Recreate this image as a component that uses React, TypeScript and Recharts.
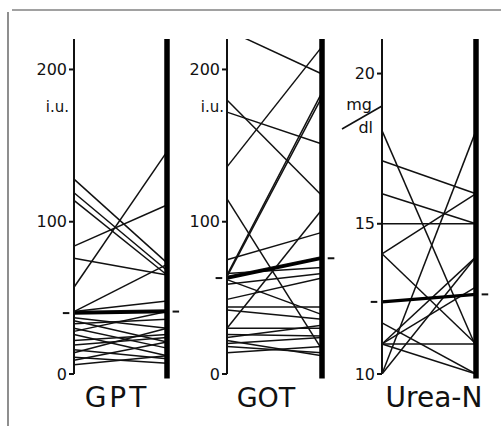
import React from 'react';
import { LineChart, Line, XAxis, YAxis, ReferenceLine } from 'recharts';

// GPT (i.u.) before -> after
const gptBefore = [128, 119, 114, 84, 76, 57, 41, 41, 41, 37, 35, 33, 30, 28, 26, 22, 19, 16, 14, 11, 9, 6];
const gptAfter = [73, 68, 65, 111, 65, 146, 72, 48, 42, 30, 21, 36, 17, 41, 12, 26, 24, 10, 30, 7, 21, 12];
const gptMean = [40, 41];

// GOT (i.u.) before -> after
const gotBefore = [226, 136, 180, 172, 115, 75, 65, 64, 64, 66, 30, 62, 59, 49, 44, 42, 30, 26, 24, 20, 18, 14, 22];
const gotAfter = [197, 215, 117, 151, 16, 93, 185, 182, 77, 70, 108, 39, 66, 63, 44, 36, 30, 25, 32, 24, 14, 18, 12];
const gotMean = [63, 76];

// Urea-N (mg/dl) before -> after
const ureaBefore = [18.1, 17.1, 16.0, 15.0, 14.0, 14.0, 11.7, 11.0, 11.0, 11.0, 10.0, 10.0, 11.0];
const ureaAfter = [10.9, 16.0, 15.0, 15.0, 16.0, 11.0, 10.0, 11.0, 13.9, 12.9, 18.1, 13.9, 10.0];
const ureaMean = [12.4, 12.65];

const gptTicks = [0, 100, 200];
const gotTicks = [0, 100, 200];
const ureaTicks = [10, 15, 20];

const FONT = 'DejaVu Sans';

function buildRows(before: number[], after: number[], mean: number[]) {
  const r0: Record<string, number> = { x: 0, mean: mean[0] };
  const r1: Record<string, number> = { x: 1, mean: mean[1] };
  before.forEach((v, i) => {
    r0['s' + i] = v;
    r1['s' + i] = after[i];
  });
  return [r0, r1];
}

type PanelProps = {
  left: number;
  marginLeft: number;
  marginRight: number;
  before: number[];
  after: number[];
  mean: number[];
  domain: [number, number];
  ticks: number[];
  barBottom: number;
};

function Panel({ left, marginLeft, marginRight, before, after, mean, domain, ticks, barBottom }: PanelProps) {
  const rows = buildRows(before, after, mean);
  return (
    <div style={{ position: 'absolute', left, top: 0 }}>
      <LineChart
        width={200}
        height={400}
        data={rows}
        margin={{ top: 39, right: marginRight, bottom: 26, left: marginLeft }}
      >
        <XAxis dataKey="x" type="number" domain={[0, 1]} hide />
        <YAxis
          width={40}
          domain={domain}
          ticks={ticks}
          allowDataOverflow
          interval={0}
          tickSize={5}
          tickMargin={2}
          axisLine={{ stroke: '#111', strokeWidth: 2 }}
          tickLine={{ stroke: '#111', strokeWidth: 2 }}
          tick={{ fill: '#111', fontSize: 16, fontFamily: FONT }}
        />
        {before.map((_, i) => (
          <Line
            key={i}
            dataKey={'s' + i}
            type="linear"
            stroke="#111"
            strokeWidth={1.5}
            dot={false}
            isAnimationActive={false}
          />
        ))}
        <Line dataKey="mean" type="linear" stroke="#000" strokeWidth={3.2} dot={false} isAnimationActive={false} />
        <ReferenceLine
          segment={[{ x: 1, y: barBottom }, { x: 1, y: domain[1] }]}
          stroke="#000"
          strokeWidth={5.5}
          ifOverflow="visible"
        />
        <ReferenceLine
          segment={[{ x: -0.12, y: mean[0] }, { x: -0.05, y: mean[0] }]}
          stroke="#111"
          strokeWidth={2}
          ifOverflow="visible"
        />
        <ReferenceLine
          segment={[{ x: 1.06, y: mean[1] }, { x: 1.13, y: mean[1] }]}
          stroke="#111"
          strokeWidth={2}
          ifOverflow="visible"
        />
      </LineChart>
    </div>
  );
}

export default function App() {
  return (
    <div style={{ position: 'absolute', left: 0, top: 0, width: 501, height: 426, background: '#fff', overflow: 'hidden' }}>
      <Panel left={0} marginLeft={34} marginRight={33} before={gptBefore} after={gptAfter} mean={gptMean} domain={[0, 220]} ticks={gptTicks} barBottom={-3} />
      <Panel left={150} marginLeft={37} marginRight={28} before={gotBefore} after={gotAfter} mean={gotMean} domain={[0, 220]} ticks={gotTicks} barBottom={-3} />
      <Panel left={300} marginLeft={42} marginRight={24} before={ureaBefore} after={ureaAfter} mean={ureaMean} domain={[10, 21.15]} ticks={ureaTicks} barBottom={9.85} />
      <svg width={501} height={426} style={{ position: 'absolute', left: 0, top: 0, pointerEvents: 'none' }}>
        <line x1={12} y1={10} x2={501} y2={10} stroke="#444" strokeWidth={1.2} />
        <line x1={8} y1={12} x2={8} y2={426} stroke="#444" strokeWidth={1.2} />
        <text x={69} y={112} textAnchor="end" fontFamily={FONT} fontSize={15} fill="#111">i.u.</text>
        <text x={224} y={112} textAnchor="end" fontFamily={FONT} fontSize={15} fill="#111">i.u.</text>
        <text x={372} y={110} textAnchor="end" fontFamily={FONT} fontSize={16} fill="#111">mg</text>
        <text x={373} y={133} textAnchor="end" fontFamily={FONT} fontSize={16} fill="#111">dl</text>
        <line x1={342} y1={129} x2={382} y2={106} stroke="#111" strokeWidth={1.6} />
        <text x={117} y={407} textAnchor="middle" fontFamily={FONT} fontSize={28} letterSpacing={3} fill="#111">GPT</text>
        <text x={266} y={407} textAnchor="middle" fontFamily={FONT} fontSize={27} fill="#111">GOT</text>
        <text x={434} y={407} textAnchor="middle" fontFamily={FONT} fontSize={28} fill="#111">Urea-N</text>
      </svg>
    </div>
  );
}
